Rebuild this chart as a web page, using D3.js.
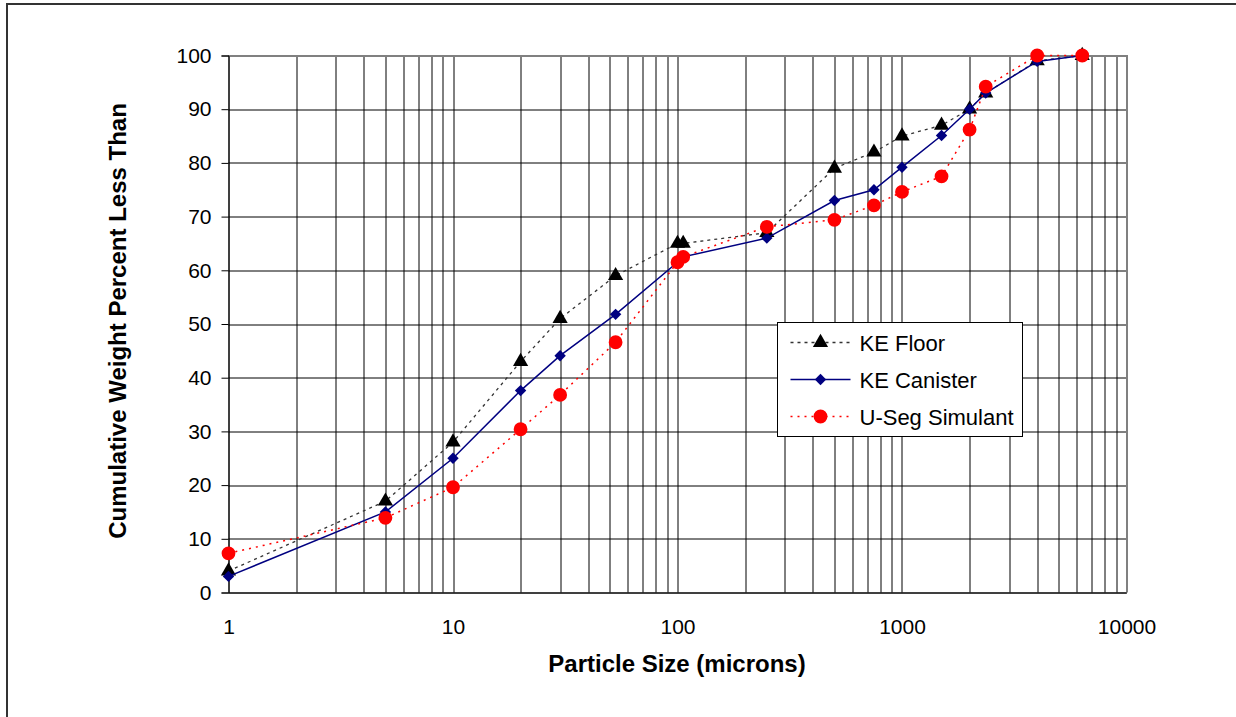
<!DOCTYPE html>
<html>
<head>
<meta charset="utf-8">
<script src="https://cdn.jsdelivr.net/npm/d3@7"></script>
<style>
  body { margin: 0; background: #fff; }
  svg { font-family: "Liberation Sans", Arial, sans-serif; }
</style>
</head>
<body>
<svg id="chart" width="1236" height="717"></svg>
<script>
// particle sizes (microns) and cumulative % less than
var sizes = [1, 5, 10, 20, 30, 53, 100, 106, 250, 500, 750, 1000, 1500, 2000, 2360, 4000, 6350];
var keFloor = [4, 17, 28, 43, 51, 59, 65, 65, 67, 79, 82, 85, 87, 90, 93, 99, 100];
var keCanister = [3, 15, 25, 37.6, 44.1, 51.8, 61.5, 62.5, 66, 73, 75, 79.2, 85.1, 90, 93, 98.9, 100];
var uSeg = [7.3, 13.9, 19.6, 30.4, 36.8, 46.6, 61.5, 62.5, 68.1, 69.4, 72.1, 74.6, 77.5, 86.2, 94.2, 100, 100];

var seriesNames = ["KE Floor", "KE Canister", "U-Seg Simulant"];
var xTicks = [1, 10, 100, 1000, 10000];
var yTicks = [0, 10, 20, 30, 40, 50, 60, 70, 80, 90, 100];

var margin = {top: 55.5, left: 228.5},
    plotW = 898,
    plotH = 537;

var svg = d3.select("#chart");

// outer chart frame (runs off the bottom/right of the picture)
svg.append("rect")
    .attr("x", 7).attr("y", 4)
    .attr("width", 1300).attr("height", 800)
    .attr("fill", "none")
    .attr("stroke", "#333")
    .attr("stroke-width", 2);

var x = d3.scaleLog().domain([1, 10000]).range([0, plotW]);
var y = d3.scaleLinear().domain([0, 100]).range([plotH, 0]);

var g = svg.append("g")
    .attr("transform", "translate(" + margin.left + "," + margin.top + ")");

// vertical grid at every log minor step
var minor = [];
for (var d = 1; d < 10000; d *= 10) {
    for (var k = 1; k < 10; k++) minor.push(d * k);
}
g.selectAll(".vgrid")
    .data(minor)
    .enter().append("line")
    .attr("class", "vgrid")
    .attr("x1", function(v) { return Math.round(x(v)) + 0.5; })
    .attr("x2", function(v) { return Math.round(x(v)) + 0.5; })
    .attr("y1", 0).attr("y2", plotH)
    .attr("stroke", "#000").attr("stroke-width", 1);

g.selectAll(".hgrid")
    .data(yTicks)
    .enter().append("line")
    .attr("class", "hgrid")
    .attr("x1", 0).attr("x2", plotW)
    .attr("y1", function(v) { return Math.round(y(v)) + 0.5; })
    .attr("y2", function(v) { return Math.round(y(v)) + 0.5; })
    .attr("stroke", "#000").attr("stroke-width", 1);

// plot-area border: gray on top/right
g.append("path")
    .attr("d", "M0," + 0.5 + "H" + (plotW + 0.5) + "V" + plotH)
    .attr("fill", "none").attr("stroke", "#808080").attr("stroke-width", 2);

// y axis
var yAxis = d3.axisLeft(y).tickValues(yTicks).tickSize(7).tickPadding(10);
g.append("g").call(yAxis)
    .call(function(s) {
        s.select(".domain").attr("stroke", "#000");
        s.selectAll("line").attr("stroke", "#000");
        s.selectAll("text").attr("font-size", "21px").attr("fill", "#000")
            .attr("font-family", "Liberation Sans, Arial, sans-serif");
    });

// x axis
var xAxis = d3.axisBottom(x).tickValues(xTicks).tickFormat(d3.format("d")).tickSize(0).tickPadding(27);
g.append("g")
    .attr("transform", "translate(0," + plotH + ")")
    .call(xAxis)
    .call(function(s) {
        s.select(".domain").attr("stroke", "#000");
        s.selectAll("text").attr("font-size", "21px").attr("fill", "#000")
            .attr("font-family", "Liberation Sans, Arial, sans-serif");
    });

// axis titles
svg.append("text")
    .attr("transform", "translate(126,321) rotate(-90)")
    .attr("text-anchor", "middle")
    .attr("font-size", "24px").attr("font-weight", "bold")
    .text("Cumulative Weight Percent Less Than");

svg.append("text")
    .attr("x", 677).attr("y", 672)
    .attr("text-anchor", "middle")
    .attr("font-size", "24px").attr("font-weight", "bold")
    .text("Particle Size (microns)");

// diamond as a square turned 45 degrees (wider than d3.symbolDiamond)
var squareDiamond = {
    draw: function(ctx, size) {
        var r = Math.sqrt(size / 2);
        ctx.moveTo(0, -r); ctx.lineTo(r, 0); ctx.lineTo(0, r); ctx.lineTo(-r, 0); ctx.closePath();
    }
};

var styles = [
    {stroke: "#333", width: 1.3, dash: "3,4", marker: d3.symbolTriangle, msize: 100, fill: "#000"},
    {stroke: "#000080", width: 1.5, dash: null, marker: squareDiamond, msize: 65, fill: "#000080"},
    {stroke: "#ff0000", width: 1.5, dash: "2,5", marker: d3.symbolCircle, msize: 150, fill: "#ff0000"}
];
var allSeries = [keFloor, keCanister, uSeg];

var line = d3.line()
    .x(function(d) { return x(d[0]); })
    .y(function(d) { return y(d[1]); });

allSeries.forEach(function(vals, si) {
    var st = styles[si];
    var pts = sizes.map(function(s, i) { return [s, vals[i]]; });
    g.append("path")
        .datum(pts)
        .attr("d", line)
        .attr("fill", "none")
        .attr("stroke", st.stroke)
        .attr("stroke-width", st.width)
        .attr("stroke-dasharray", st.dash);
    g.selectAll(".m" + si)
        .data(pts)
        .enter().append("path")
        .attr("class", "m" + si)
        .attr("d", d3.symbol().type(st.marker).size(st.msize))
        .attr("transform", function(d) { return "translate(" + x(d[0]) + "," + y(d[1]) + ")"; })
        .attr("fill", st.fill);
});

// legend
var lg = svg.append("g").attr("transform", "translate(777.5,322.5)");
lg.append("rect")
    .attr("width", 245).attr("height", 114)
    .attr("fill", "#fff").attr("stroke", "#000").attr("stroke-width", 1);
var rowY = [20, 57, 94];
seriesNames.forEach(function(name, i) {
    var st = styles[i];
    lg.append("line")
        .attr("x1", 13).attr("x2", 73)
        .attr("y1", rowY[i]).attr("y2", rowY[i])
        .attr("stroke", st.stroke).attr("stroke-width", st.width)
        .attr("stroke-dasharray", st.dash);
    lg.append("path")
        .attr("d", d3.symbol().type(st.marker).size(st.msize)())
        .attr("transform", "translate(43," + rowY[i] + ")")
        .attr("fill", st.fill);
    lg.append("text")
        .attr("x", 82).attr("y", rowY[i] + 8)
        .attr("font-size", "22px")
        .text(name);
});
</script>
</body>
</html>
